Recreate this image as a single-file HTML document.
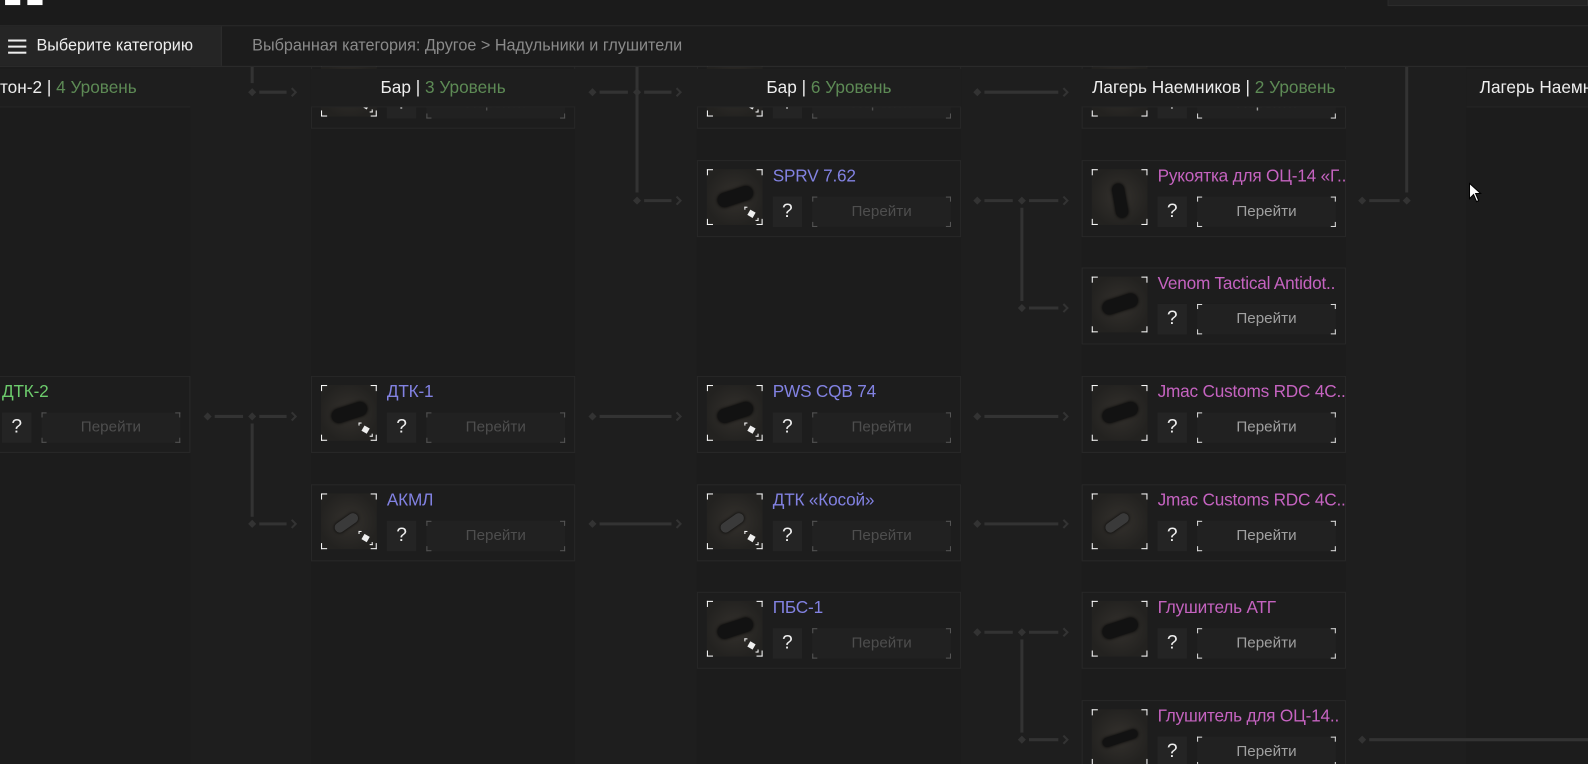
<!DOCTYPE html>
<html><head><meta charset="utf-8"><style>
*{margin:0;padding:0;box-sizing:border-box}
html,body{width:1588px;height:764px;overflow:hidden;background:#1e1e1e;font-family:"Liberation Sans Narrow","Liberation Sans","DejaVu Sans Condensed",sans-serif}
#w{position:absolute;left:0;top:0;width:1568px;height:754px;transform:scale(1.01276,1.01326);transform-origin:0 0;overflow:hidden}
.a{position:absolute}
.col{position:absolute;top:66px;width:261px;height:700px;background:#1c1c1c}
.card{position:absolute;width:261px;height:76px;border:1px solid #282828;background:#1d1d1d}
.img{position:absolute;left:9px;top:8px;width:55px;height:55px;
background:linear-gradient(#fff,#fff) left top/6px 1px no-repeat,linear-gradient(#fff,#fff) left top/1px 6px no-repeat,
linear-gradient(#fff,#fff) right top/6px 1px no-repeat,linear-gradient(#fff,#fff) right top/1px 6px no-repeat,
linear-gradient(#fff,#fff) left bottom/6px 1px no-repeat,linear-gradient(#fff,#fff) left bottom/1px 6px no-repeat,
linear-gradient(#fff,#fff) right bottom/6px 1px no-repeat,linear-gradient(#fff,#fff) right bottom/1px 6px no-repeat,
radial-gradient(circle at 50% 50%,#34312d,#232220 75%)}
.obj{position:absolute;left:10px;top:20px;width:36px;height:14px;border-radius:7px;background:#121212;transform:rotate(-18deg);box-shadow:0 0 3px #000}
.bd{position:absolute;right:4px;bottom:4px;width:14px;height:14px;
background:linear-gradient(#fff,#fff) left top/3px 1px no-repeat,linear-gradient(#fff,#fff) left top/1px 3px no-repeat,linear-gradient(#fff,#fff) right bottom/3px 1px no-repeat,linear-gradient(#fff,#fff) right bottom/1px 3px no-repeat}
.bd:after{content:"";position:absolute;left:4px;top:4px;width:6px;height:6px;background:#eee;transform:rotate(30deg)}
.t{position:absolute;left:74px;top:5px;font-size:17px;white-space:nowrap;letter-spacing:-0.2px}
.blue{color:#8282e2}.pink{color:#c563c0}.green{color:#6ccb6c}
.q{position:absolute;left:74px;top:35px;width:29px;height:30px;background:#242424;color:#eee;font-size:19px;text-align:center;line-height:30px}
.btn{position:absolute;left:113px;top:35px;width:137px;height:30px;background-color:#212121;text-align:center;line-height:30px;font-size:15px;color:#4e4e4e;
background-image:linear-gradient(#555,#555),linear-gradient(#555,#555),linear-gradient(#555,#555),linear-gradient(#555,#555),linear-gradient(#555,#555),linear-gradient(#555,#555),linear-gradient(#555,#555),linear-gradient(#555,#555);
background-size:5px 1px,1px 5px,5px 1px,1px 5px,5px 1px,1px 5px,5px 1px,1px 5px;background-repeat:no-repeat;
background-position:left top,left top,right top,right top,left bottom,left bottom,right bottom,right bottom}
.on .btn{color:#a0a0a0;background-image:linear-gradient(#ddd,#ddd),linear-gradient(#ddd,#ddd),linear-gradient(#ddd,#ddd),linear-gradient(#ddd,#ddd),linear-gradient(#ddd,#ddd),linear-gradient(#ddd,#ddd),linear-gradient(#ddd,#ddd),linear-gradient(#ddd,#ddd)}
.hd{position:absolute;top:68px;width:261px;height:38px;background:#1e1e1e;border-bottom:1px solid #262626;text-align:center;line-height:38px;font-size:17px;color:#eee;white-space:nowrap}
.hd span{color:#5d8a55}
</style></head><body><div id="w">
<div class="col" style="left:-73px"></div><div class="col" style="left:307px"></div><div class="col" style="left:688px"></div><div class="col" style="left:1068px"></div><div class="col" style="left:1448px"></div>

<svg class="a" style="left:0;top:0" width="1568" height="754">
<g stroke="#333" stroke-width="3" fill="none">
<path d="M256 91H283M592 91H620M636 91H663M972 91H1045"/>
<path d="M636 198H663M972 198H1000M1016 198H1045M1352 198H1382"/>
<path d="M1016 304H1045"/>
<path d="M212 411H240M256 411H283M592 411H663M972 411H1045"/>
<path d="M256 517H283M592 517H663M972 517H1045"/>
<path d="M972 624H1000M1016 624H1045"/>
<path d="M1016 730H1045M1352 730H1568"/>
<path d="M249 66V82M249 418V510M629 66V190M1009 205V297M1009 631V723M1389 66V190"/>
</g>
<g fill="#333">
<path id="d" d="M0 -4L4 0L0 4L-4 0Z" transform="translate(249 91)"/>
<path d="M0 -4L4 0L0 4L-4 0Z" transform="translate(585 91)"/><path d="M0 -4L4 0L0 4L-4 0Z" transform="translate(629 91)"/><path d="M0 -4L4 0L0 4L-4 0Z" transform="translate(965 91)"/>
<path d="M0 -4L4 0L0 4L-4 0Z" transform="translate(629 198)"/><path d="M0 -4L4 0L0 4L-4 0Z" transform="translate(965 198)"/><path d="M0 -4L4 0L0 4L-4 0Z" transform="translate(1009 198)"/><path d="M0 -4L4 0L0 4L-4 0Z" transform="translate(1345 198)"/><path d="M0 -4L4 0L0 4L-4 0Z" transform="translate(1389 198)"/>
<path d="M0 -4L4 0L0 4L-4 0Z" transform="translate(1009 304)"/>
<path d="M0 -4L4 0L0 4L-4 0Z" transform="translate(205 411)"/><path d="M0 -4L4 0L0 4L-4 0Z" transform="translate(249 411)"/><path d="M0 -4L4 0L0 4L-4 0Z" transform="translate(585 411)"/><path d="M0 -4L4 0L0 4L-4 0Z" transform="translate(965 411)"/>
<path d="M0 -4L4 0L0 4L-4 0Z" transform="translate(249 517)"/><path d="M0 -4L4 0L0 4L-4 0Z" transform="translate(585 517)"/><path d="M0 -4L4 0L0 4L-4 0Z" transform="translate(965 517)"/>
<path d="M0 -4L4 0L0 4L-4 0Z" transform="translate(965 624)"/><path d="M0 -4L4 0L0 4L-4 0Z" transform="translate(1009 624)"/>
<path d="M0 -4L4 0L0 4L-4 0Z" transform="translate(1009 730)"/><path d="M0 -4L4 0L0 4L-4 0Z" transform="translate(1345 730)"/>
</g>
<g stroke="#333" stroke-width="2" fill="none">
<path d="M288 87L292 91L288 95M668 87L672 91L668 95M1050 87L1054 91L1050 95"/>
<path d="M668 194L672 198L668 202M1050 194L1054 198L1050 202M1050 300L1054 304L1050 308"/>
<path d="M288 407L292 411L288 415M668 407L672 411L668 415M1050 407L1054 411L1050 415"/>
<path d="M288 513L292 517L288 521M668 513L672 517L668 521M1050 513L1054 517L1050 521"/>
<path d="M1050 620L1054 624L1050 628M1050 726L1054 730L1050 734"/>
</g>
</svg>

<!-- row0 -->
<div class="card" style="left:307px;top:51px"><div class="img"><div class="obj"></div><div class="bd"></div></div><div class="q">?</div><div class="btn">Перейти</div></div>
<div class="card" style="left:688px;top:51px"><div class="img"><div class="obj"></div><div class="bd"></div></div><div class="q">?</div><div class="btn">Перейти</div></div>
<div class="card on" style="left:1068px;top:51px"><div class="img"><div class="obj"></div></div><div class="q">?</div><div class="btn">Перейти</div></div>
<!-- row1 -->
<div class="card" style="left:688px;top:158px"><div class="img"><div class="obj"></div><div class="bd"></div></div><div class="t blue">SPRV 7.62</div><div class="q">?</div><div class="btn">Перейти</div></div>
<div class="card on" style="left:1068px;top:158px"><div class="img"><div class="obj" style="width:12px;height:34px;left:22px;top:14px;transform:rotate(-10deg)"></div></div><div class="t pink">Рукоятка для ОЦ-14 «Г..</div><div class="q">?</div><div class="btn">Перейти</div></div>
<!-- row2 -->
<div class="card on" style="left:1068px;top:264px"><div class="img"><div class="obj"></div></div><div class="t pink">Venom Tactical Antidot..</div><div class="q">?</div><div class="btn">Перейти</div></div>
<!-- row3 -->
<div class="card" style="left:-73px;top:371px"><div class="img"></div><div class="t green">ДТК-2</div><div class="q">?</div><div class="btn">Перейти</div></div>
<div class="card" style="left:307px;top:371px"><div class="img"><div class="obj"></div><div class="bd"></div></div><div class="t blue">ДТК-1</div><div class="q">?</div><div class="btn">Перейти</div></div>
<div class="card" style="left:688px;top:371px"><div class="img"><div class="obj"></div><div class="bd"></div></div><div class="t blue">PWS CQB 74</div><div class="q">?</div><div class="btn">Перейти</div></div>
<div class="card on" style="left:1068px;top:371px"><div class="img"><div class="obj"></div></div><div class="t pink">Jmac Customs RDC 4C..</div><div class="q">?</div><div class="btn">Перейти</div></div>
<!-- row4 -->
<div class="card" style="left:307px;top:478px"><div class="img"><div class="obj" style="width:26px;height:10px;left:12px;top:24px;transform:rotate(-35deg);background:#3a3a3a"></div><div class="bd"></div></div><div class="t blue">АКМЛ</div><div class="q">?</div><div class="btn">Перейти</div></div>
<div class="card" style="left:688px;top:478px"><div class="img"><div class="obj" style="width:26px;height:10px;left:12px;top:24px;transform:rotate(-35deg);background:#3a3a3a"></div><div class="bd"></div></div><div class="t blue">ДТК «Косой»</div><div class="q">?</div><div class="btn">Перейти</div></div>
<div class="card on" style="left:1068px;top:478px"><div class="img"><div class="obj" style="width:26px;height:10px;left:12px;top:24px;transform:rotate(-35deg);background:#3a3a3a"></div></div><div class="t pink">Jmac Customs RDC 4C..</div><div class="q">?</div><div class="btn">Перейти</div></div>
<!-- row5 -->
<div class="card" style="left:688px;top:584px"><div class="img"><div class="obj"></div><div class="bd"></div></div><div class="t blue">ПБС-1</div><div class="q">?</div><div class="btn">Перейти</div></div>
<div class="card on" style="left:1068px;top:584px"><div class="img"><div class="obj"></div></div><div class="t pink">Глушитель АТГ</div><div class="q">?</div><div class="btn">Перейти</div></div>
<!-- row6 -->
<div class="card on" style="left:1068px;top:691px"><div class="img"><div class="obj" style="height:9px;top:24px"></div></div><div class="t pink">Глушитель для ОЦ-14..</div><div class="q">?</div><div class="btn">Перейти</div></div>

<!-- headers -->
<div class="hd" style="left:-73px">Бетон-2 | <span>4 Уровень</span></div>
<div class="hd" style="left:307px">Бар | <span>3 Уровень</span></div>
<div class="hd" style="left:688px">Бар | <span>6 Уровень</span></div>
<div class="hd" style="left:1068px">Лагерь Наемников | <span>2 Уровень</span></div>
<div class="hd" style="left:1448px;width:300px;text-align:left;padding-left:13px">Лагерь Наемников | <span>3 Уровень</span></div>

<!-- top bars -->
<div class="a" style="left:0;top:0;width:1568px;height:26px;background:#1b1b1b;border-bottom:1px solid #2c2c2c"></div>
<div class="a" style="left:5px;top:0;width:15px;height:5px;background:#fff"></div>
<div class="a" style="left:27px;top:0;width:15px;height:5px;background:#fff"></div>
<div class="a" style="left:1370px;top:0;width:198px;height:6px;background:#232323;border:1px solid #2c2c2c;border-top:none"></div>
<div class="a" style="left:0;top:26px;width:1568px;height:40px;background:#1c1c1c;border-bottom:1px solid #2c2c2c"></div>
<div class="a" style="left:0;top:26px;width:219px;height:39px;background:#252525;border-right:1px solid #2e2e2e"></div>
<div class="a" style="left:8px;top:39px;width:18px;height:2px;background:#eee;box-shadow:0 6px 0 #eee,0 12px 0 #eee"></div>
<div class="a" style="left:36px;top:26px;line-height:39px;font-size:16px;color:#eee">Выберите категорию</div>
<div class="a" style="left:249px;top:26px;line-height:39px;font-size:16px;color:#8a8a8a">Выбранная категория: Другое &gt; Надульники и глушители</div>
<svg class="a" style="left:1450px;top:180px" width="14" height="20"><path d="M1 1V16L5 12L8 19L10 18L7 11H12Z" fill="#fff" stroke="#000" stroke-width="1"/></svg>
</div></body></html>
